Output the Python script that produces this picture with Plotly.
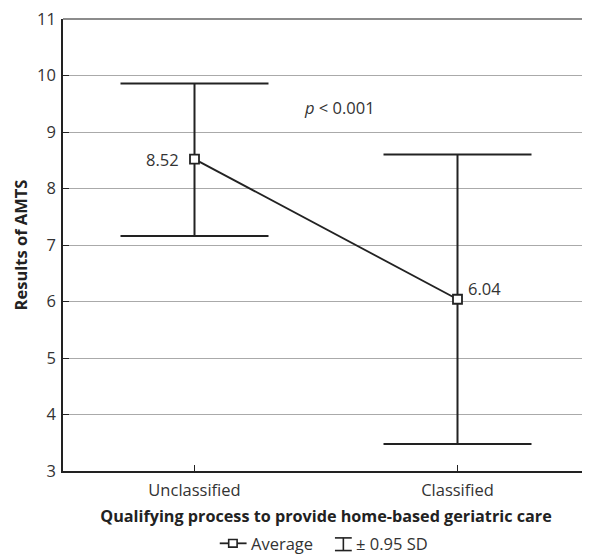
import plotly.graph_objects as go

categories = ["Unclassified", "Classified"]
means = [8.52, 6.04]
upper = [9.86, 8.60]
lower = [7.16, 3.48]
mean_labels = ["8.52", "6.04"]
y_ticks = [3, 4, 5, 6, 7, 8, 9, 10, 11]

err_plus = [u - m for u, m in zip(upper, means)]
err_minus = [m - l for m, l in zip(means, lower)]

FONT = "Open Sans"
TXT = "#333333"
INK = "#222222"
FS = 16.5

fig = go.Figure()
fig.add_trace(go.Scatter(
    x=[0, 1], y=means, mode="lines+markers",
    line=dict(color=INK, width=1.8),
    marker=dict(symbol="square", size=9, color="white", line=dict(color=INK, width=1.8)),
    error_y=dict(type="data", symmetric=False, array=err_plus, arrayminus=err_minus,
                 color=INK, thickness=2, width=74),
    showlegend=False, hoverinfo="skip",
))

fig.add_annotation(x=0, y=means[0], text=mean_labels[0], showarrow=False,
                   xanchor="right", yanchor="middle", xshift=-14, font=dict(size=FS, color=TXT, family=FONT))
fig.add_annotation(x=1, y=means[1], text=mean_labels[1], showarrow=False,
                   xanchor="left", yanchor="middle", xshift=8, yshift=11, font=dict(size=FS, color=TXT, family=FONT))
fig.add_annotation(x=0.55, y=9.44, text="<i>p</i> < 0.001", showarrow=False, yanchor="middle",
                   font=dict(size=FS, color=TXT, family=FONT))

# manual legend (paper coordinates)
ly = -0.16
fig.add_shape(type="line", xref="paper", yref="paper", x0=0.298, x1=0.349, y0=ly, y1=ly,
              line=dict(color=INK, width=1.8))
fig.add_shape(type="rect", xref="paper", yref="paper", x0=0.315, x1=0.331, y0=ly-0.0085, y1=ly+0.0085,
              line=dict(color=INK, width=1.6), fillcolor="white")
fig.add_annotation(xref="paper", yref="paper", x=0.355, y=ly, text="Average", showarrow=False,
                   xanchor="left", yanchor="middle", borderpad=0, font=dict(size=FS, color=TXT, family=FONT))
fig.add_shape(type="line", xref="paper", yref="paper", x0=0.517, x1=0.549, y0=ly+0.012, y1=ly+0.012,
              line=dict(color=INK, width=1.6))
fig.add_shape(type="line", xref="paper", yref="paper", x0=0.517, x1=0.549, y0=ly-0.016, y1=ly-0.016,
              line=dict(color=INK, width=1.6))
fig.add_shape(type="line", xref="paper", yref="paper", x0=0.533, x1=0.533, y0=ly-0.016, y1=ly+0.012,
              line=dict(color=INK, width=1.6))
fig.add_annotation(xref="paper", yref="paper", x=0.555, y=ly, text="± 0.95 SD", showarrow=False,
                   xanchor="left", yanchor="middle", borderpad=0, font=dict(size=FS, color=TXT, family=FONT))

# page body has an 8px margin, so the figure is sized to fill the rest of the window
fig.update_layout(
    width=582, height=546,
    margin=dict(l=55, r=1, t=11, b=83, autoexpand=False),
    paper_bgcolor="white", plot_bgcolor="white",
    font=dict(family=FONT, size=FS, color=TXT),
    xaxis=dict(
        range=[-0.5, 1.5], tickmode="array", tickvals=[0, 1], ticktext=categories,
        showline=True, linecolor=INK, linewidth=1.5, mirror=False,
        showgrid=False, zeroline=False, automargin=False,
        ticks="inside", ticklen=6, tickcolor=INK, tickwidth=1,
        tickfont=dict(size=FS, color=TXT, family=FONT),
        ticklabelstandoff=3,
        title=dict(text="<b>Qualifying process to provide home-based geriatric care</b>",
                   font=dict(size=16.2, color=INK, family=FONT), standoff=11),
    ),
    yaxis=dict(
        range=[3, 11], tickmode="array", tickvals=y_ticks,
        showline=True, linecolor=INK, linewidth=1.5,
        showgrid=True, gridcolor="#aaaaaa", gridwidth=1.2, zeroline=False, automargin=False,
        ticks="inside", ticklen=6, tickcolor=INK, tickwidth=1.2,
        tickfont=dict(size=FS, color=TXT, family=FONT),
        ticklabelstandoff=2, ticklabeloverflow="allow",
        title=dict(text="<b>Results of AMTS</b>", font=dict(size=FS, color=INK, family=FONT), standoff=5),
    ),
)
# top border
fig.add_shape(type="line", xref="paper", yref="paper", x0=0, x1=1, y0=1, y1=1,
              line=dict(color="#666666", width=1.5))
# right-side inner ticks
for t in y_ticks[1:-1]:
    fig.add_shape(type="line", xref="paper", yref="y", x0=0.994, x1=1, y0=t, y1=t,
                  line=dict(color=INK, width=1.2))

fig.write_html("out.html")
